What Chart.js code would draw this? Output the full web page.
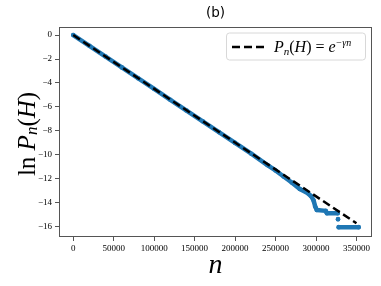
<!DOCTYPE html>
<html><head><meta charset="utf-8">
<script src="https://cdn.jsdelivr.net/npm/chart.js@4.4.0/dist/chart.umd.min.js"></script>
<style>html,body{margin:0;padding:0;background:#fff}#wrap{width:381px;height:286px}</style>
</head><body><div id="wrap"><canvas id="c" width="381" height="286"></canvas></div>
<script>
// measured series ln P_n(H) vs n (null = gap)
const nValues   = [0, 20000, 40000, 60000, 80000, 100000, 120000, 140000, 160000, 180000, 200000, 220000, 240000, 250000, 260000, 270000, 280000, 290000, 294000, 297000, 299000, 301000, 312000, 313500, 326800, 327000, 327200, 327300, 328000, 352700];
const lnPValues = [0, -0.9, -1.8, -2.7, -3.6, -4.5, -5.4, -6.3, -7.2, -8.1, -9.0, -9.9, -10.85, -11.3, -11.8, -12.3, -12.85, -13.2, -13.45, -13.8, -14.3, -14.6, -14.67, -14.86, -14.86, null, -15.36, null, -16.03, -16.03];
// fitted line P_n(H) = e^{-gamma n}
const fitN = [0, 350000];
const fitY = [0, -15.7];
const xTicks = [0, 50000, 100000, 150000, 200000, 250000, 300000, 350000];
const yTicks = [0, -2, -4, -6, -8, -10, -12, -14, -16];
const titleText = '(b)';
const xLabel = 'n';
const legendLabel = 'P_n(H) = e^{-γn}';

const blueData = nValues.map((v, i) => ({x: v, y: lnPValues[i]}));
const fitData = fitN.map((v, i) => ({x: v, y: fitY[i]}));

const AXC = '#555555';
const overlay = {
  id: 'overlay',
  afterDraw(chart) {
    const ctx = chart.ctx, a = chart.chartArea;
    ctx.save();
    ctx.strokeStyle = AXC; ctx.lineWidth = 1;
    ctx.strokeRect(a.left + 0.5, a.top + 0.5, a.right - a.left - 1, a.bottom - a.top - 1);
    ctx.translate(20, (a.top + a.bottom) / 2 + 2);
    ctx.rotate(-Math.PI / 2);
    const parts = [
      {t: 'ln', f: '25px "Liberation Serif"', dy: 0},
      {t: ' ', f: '25px "Liberation Serif"', dy: 0},
      {t: 'P', f: 'italic 25px "Liberation Serif"', dy: 0},
      {t: 'n', f: 'italic 17px "Liberation Serif"', dy: 5},
      {t: '(', f: '25px "Liberation Serif"', dy: 0},
      {t: 'H', f: 'italic 25px "Liberation Serif"', dy: 0},
      {t: ')', f: '25px "Liberation Serif"', dy: 0}
    ];
    let w = 0;
    parts.forEach(p => { ctx.font = p.f; p.w = ctx.measureText(p.t).width; w += p.w; });
    let x = -w / 2;
    ctx.fillStyle = '#000'; ctx.textBaseline = 'middle';
    parts.forEach(p => { ctx.font = p.f; ctx.fillText(p.t, x, 8 + p.dy); x += p.w; });
    ctx.restore();

    ctx.save();
    const bx = 226, by = 32.5, bw = 139, bh = 27;
    ctx.fillStyle = 'rgba(255,255,255,0.8)';
    ctx.strokeStyle = '#d8d8d8'; ctx.lineWidth = 1;
    ctx.beginPath();
    ctx.roundRect(bx + 0.5, by + 0.5, bw, bh, 3);
    ctx.fill(); ctx.stroke();
    ctx.strokeStyle = '#000'; ctx.lineWidth = 2.5; ctx.setLineDash([8, 4]);
    ctx.beginPath(); ctx.moveTo(232, 47); ctx.lineTo(265, 47); ctx.stroke();
    ctx.setLineDash([]);
    const lp = [
      {t: 'P', f: 'italic 16px "Liberation Serif"', dy: 0},
      {t: 'n', f: 'italic 11px "Liberation Serif"', dy: 3},
      {t: '(', f: '16px "Liberation Serif"', dy: 0},
      {t: 'H', f: 'italic 16px "Liberation Serif"', dy: 0},
      {t: ') = ', f: '16px "Liberation Serif"', dy: 0},
      {t: 'e', f: 'italic 16px "Liberation Serif"', dy: 0},
      {t: '−γn', f: 'italic 10px "Liberation Serif"', dy: -6}
    ];
    let lx = 274;
    ctx.fillStyle = '#000'; ctx.textBaseline = 'alphabetic';
    lp.forEach(p => { ctx.font = p.f; ctx.fillText(p.t, lx, 52 + p.dy); lx += ctx.measureText(p.t).width; });
    ctx.restore();
  }
};

new Chart(document.getElementById('c'), {
  type: 'scatter',
  data: {
    datasets: [
      {label: 'data', data: blueData, showLine: true, spanGaps: false,
       borderColor: '#1f77b4', backgroundColor: '#1f77b4', borderWidth: 4.5,
       borderCapStyle: 'round', borderJoinStyle: 'round', pointRadius: 2.3, pointBorderWidth: 0, order: 2},
      {label: legendLabel, data: fitData, showLine: true, borderColor: '#000', borderWidth: 2.5,
       borderDash: [8, 4], pointRadius: 0, order: 1}
    ]
  },
  options: {
    responsive: false, animation: false, devicePixelRatio: 1,
    layout: {padding: {top: 0, right: 9, left: 0, bottom: 0}},
    plugins: {
      legend: {display: false}, tooltip: {enabled: false},
      title: {display: true, text: titleText, fullSize: false, color: '#000',
        font: {family: '"DejaVu Sans"', size: 13.5, weight: 'normal', lineHeight: 1.2},
        padding: {top: 5, bottom: 5.8}}
    },
    scales: {
      x: {type: 'linear', min: -17600, max: 369200,
        afterBuildTicks: s => { s.ticks = xTicks.map(v => ({value: v})); },
        afterFit: s => { s.height = 49; },
        border: {display: false},
        grid: {display: true, drawOnChartArea: false, drawTicks: true, tickLength: 4, color: AXC, tickWidth: 1},
        ticks: {color: '#000', padding: 2, maxRotation: 0, autoSkip: false,
          font: {family: '"Liberation Serif"', size: 9}, callback: v => String(v)},
        title: {display: true, text: xLabel, color: '#000',
          font: {family: '"Liberation Serif"', size: 28, style: 'italic'}, padding: {top: 0}}
      },
      y: {type: 'linear', min: -16.85, max: 0.67,
        afterBuildTicks: s => { s.ticks = yTicks.map(v => ({value: v})); },
        afterFit: s => { s.width = 59; },
        border: {display: false},
        grid: {display: true, drawOnChartArea: false, drawTicks: true, tickLength: 4, color: AXC, tickWidth: 1},
        ticks: {color: '#000', padding: 3,
          font: {family: '"Liberation Serif"', size: 9}, callback: v => String(v).replace('-', '\u2212')}
      }
    }
  },
  plugins: [overlay]
});
</script></body></html>
